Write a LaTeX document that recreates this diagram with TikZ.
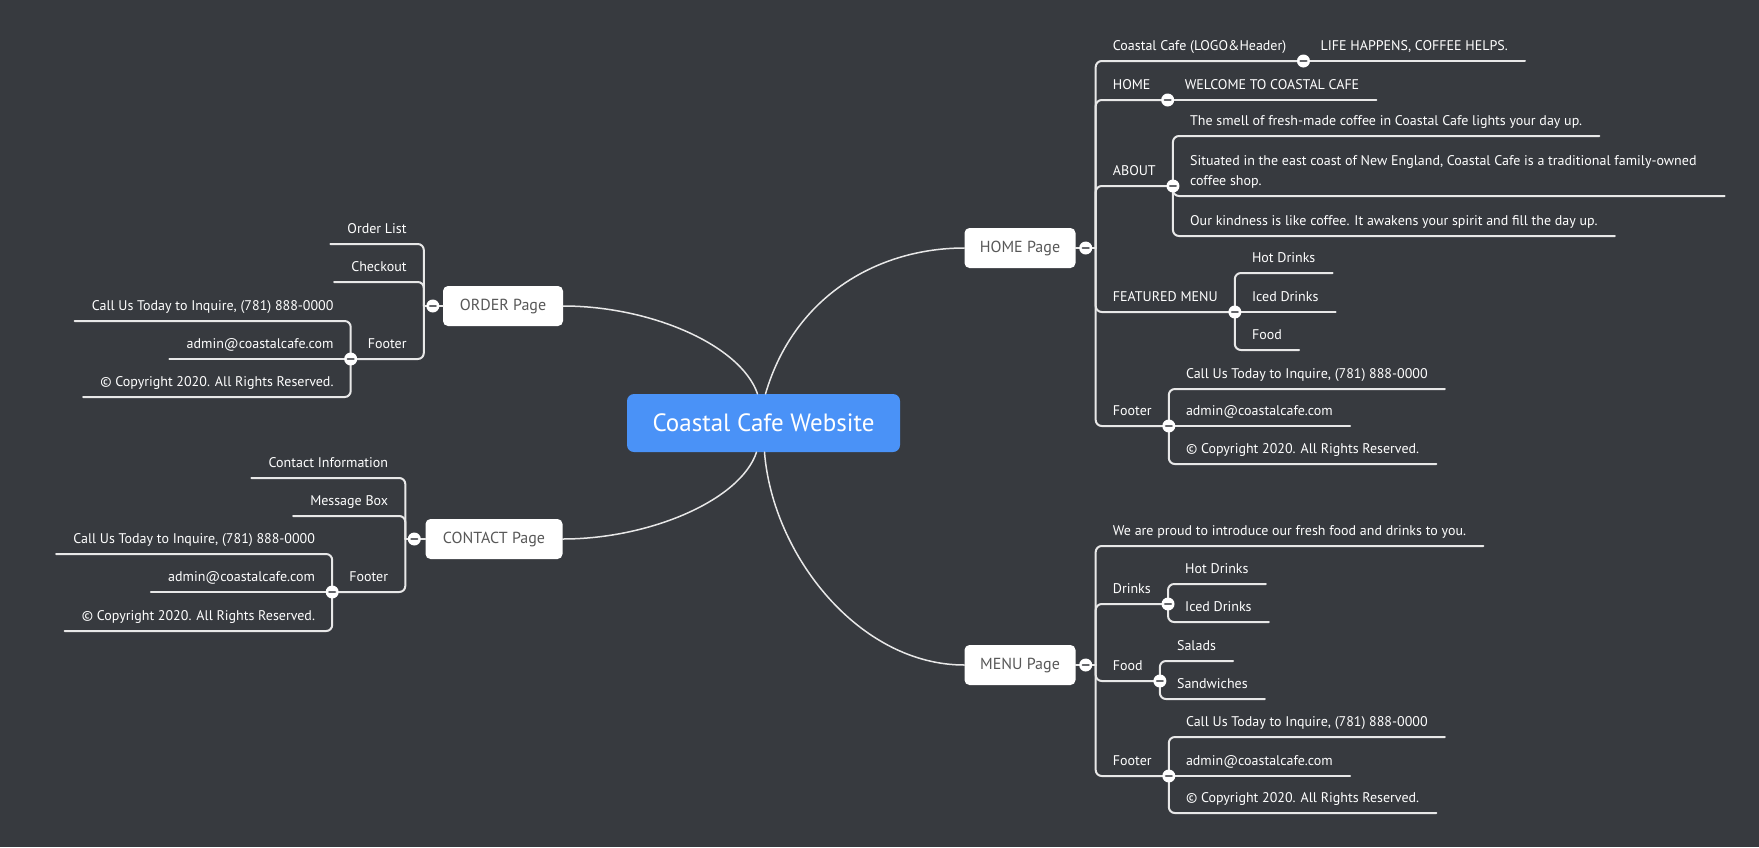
\documentclass[tikz,border=0pt]{standalone}
\usepackage{fontspec}
\setmainfont{PT Sans}
\usetikzlibrary{positioning}

\definecolor{bgclr}{RGB}{55,58,63}
\definecolor{rootclr}{RGB}{74,146,247}
\definecolor{lineclr}{RGB}{232,232,232}
\definecolor{pagetxt}{RGB}{88,88,88}
\definecolor{minusclr}{RGB}{100,102,106}

\begin{document}
\begin{tikzpicture}[
  x=1pt,
  y=-1pt,
  line join=round,
  line cap=round,
  root/.style={fill=rootclr,text=white,rounded corners=7pt,
    minimum width=273pt,minimum height=58pt,font=\fontsize{25}{30}\selectfont},
  page/.style={fill=white,text=pagetxt,rounded corners=5pt,
    minimum height=40pt,font=\fontsize{16}{20}\selectfont},
  leaf/.style={text=white,inner xsep=17pt,inner ysep=7pt,
    text height=11pt,text depth=3pt,font=\fontsize{14}{20}\selectfont},
  trunk/.style={draw=lineclr,line width=1.5pt},
  branch/.style={draw=lineclr,line width=2pt,rounded corners=6pt},
  fold/.style={circle,fill=white,minimum size=13pt,inner sep=0pt,
    path picture={\draw[minusclr,line width=2.2pt]
      ([xshift=-3pt]path picture bounding box.center) --
      ([xshift=3pt]path picture bounding box.center);}}
]
  \useasboundingbox (0,0) rectangle (1759,847);
  \fill[bgclr] (0,0) rectangle (1759,847);

  % Central topic and the four pages.
  \node[root] (site) at (763.5,423) {Coastal Cafe Website};
  \node[page,minimum width=111pt] (home) at (1020,248) {HOME Page};
  \node[page,minimum width=111pt] (menu) at (1020,665) {MENU Page};
  \node[page,minimum width=120pt] (order) at (503,306) {ORDER Page};
  \node[page,minimum width=137pt] (contact) at (494,539) {CONTACT Page};

  % Spine points beside each page.
  \coordinate (homeJ) at ([xshift=20pt]home.east);
  \coordinate (menuJ) at ([xshift=20pt]menu.east);
  \coordinate (orderJ) at ([xshift=-19pt]order.west);
  \coordinate (contactJ) at ([xshift=-20pt]contact.west);

  % HOME Page branch.
  \node[leaf,anchor=south west] (logo) at (homeJ |- 0,61) {Coastal Cafe (LOGO\&Header)};
  \coordinate (logoJ) at (logo.south east);
  \node[leaf,anchor=south west] (slogan) at (logoJ) {LIFE HAPPENS, COFFEE HELPS.};
  \node[leaf,anchor=south west] (homeSec) at (homeJ |- 0,100) {HOME};
  \coordinate (homeSecJ) at (homeSec.south east);
  \node[leaf,anchor=south west] (welcome) at (homeSecJ) {WELCOME TO COASTAL CAFE};
  \node[leaf,anchor=south west] (about) at (homeJ |- 0,186) {ABOUT};
  \coordinate (aboutJ) at (about.south east);
  \node[leaf,anchor=south west] (smell) at (aboutJ |- 0,136)
    {The smell of fresh-made coffee in Coastal Cafe lights your day up.};
  \node[leaf,anchor=south west,align=left,text height=31pt,inner xsep=0pt] (situated) at (aboutJ |- 0,196)
    {\hspace*{17pt}Situated in the east coast of New England, Coastal Cafe is a traditional family-owned\hspace*{28pt}\\\hspace*{17pt}coffee shop.};
  \node[leaf,anchor=south west] (kindness) at (aboutJ |- 0,236)
    {Our kindness is like coffee. It awakens your spirit and fill the day up.};
  \node[leaf,anchor=south west] (featured) at (homeJ |- 0,312) {FEATURED MENU};
  \coordinate (featuredJ) at (featured.south east);
  \node[leaf,anchor=south west] (hotHome) at (featuredJ |- 0,273) {Hot Drinks};
  \node[leaf,anchor=south west] (icedHome) at (featuredJ |- 0,312) {Iced Drinks};
  \node[leaf,anchor=south west] (foodHome) at (featuredJ |- 0,350) {Food};
  \node[leaf,anchor=south west] (footHome) at (homeJ |- 0,426) {Footer};
  \coordinate (footHomeJ) at (footHome.south east);
  \node[leaf,anchor=south west] (callHome) at (footHomeJ |- 0,389) {Call Us Today to Inquire, (781) 888-0000};
  \node[leaf,anchor=south west] (mailHome) at (footHomeJ |- 0,426) {admin@coastalcafe.com};
  \node[leaf,anchor=south west] (copyHome) at (footHomeJ |- 0,464) {© Copyright 2020. All Rights Reserved.};

  % MENU Page branch.
  \node[leaf,anchor=south west] (proud) at (menuJ |- 0,546)
    {We are proud to introduce our fresh food and drinks to you.};
  \node[leaf,anchor=south west] (drinks) at (menuJ |- 0,604) {Drinks};
  \coordinate (drinksJ) at (drinks.south east);
  \node[leaf,anchor=south west] (hotMenu) at (drinksJ |- 0,584) {Hot Drinks};
  \node[leaf,anchor=south west] (icedMenu) at (drinksJ |- 0,622) {Iced Drinks};
  \node[leaf,anchor=south west] (food) at (menuJ |- 0,681) {Food};
  \coordinate (foodJ) at (food.south east);
  \node[leaf,anchor=south west] (salads) at (foodJ |- 0,661) {Salads};
  \node[leaf,anchor=south west] (sandwiches) at (foodJ |- 0,699) {Sandwiches};
  \node[leaf,anchor=south west] (footMenu) at (menuJ |- 0,776) {Footer};
  \coordinate (footMenuJ) at (footMenu.south east);
  \node[leaf,anchor=south west] (callMenu) at (footMenuJ |- 0,737) {Call Us Today to Inquire, (781) 888-0000};
  \node[leaf,anchor=south west] (mailMenu) at (footMenuJ |- 0,776) {admin@coastalcafe.com};
  \node[leaf,anchor=south west] (copyMenu) at (footMenuJ |- 0,813) {© Copyright 2020. All Rights Reserved.};

  % ORDER Page branch.
  \node[leaf,anchor=south east] (orderList) at (orderJ |- 0,244) {Order List};
  \node[leaf,anchor=south east] (checkout) at (orderJ |- 0,282) {Checkout};
  \node[leaf,anchor=south east] (footOrder) at (orderJ |- 0,359) {Footer};
  \coordinate (footOrderJ) at (footOrder.south west);
  \node[leaf,anchor=south east] (callOrder) at (footOrderJ |- 0,321) {Call Us Today to Inquire, (781) 888-0000};
  \node[leaf,anchor=south east] (mailOrder) at (footOrderJ |- 0,359) {admin@coastalcafe.com};
  \node[leaf,anchor=south east] (copyOrder) at (footOrderJ |- 0,397) {© Copyright 2020. All Rights Reserved.};

  % CONTACT Page branch.
  \node[leaf,anchor=south east] (contactInfo) at (contactJ |- 0,478) {Contact Information};
  \node[leaf,anchor=south east] (message) at (contactJ |- 0,516) {Message Box};
  \node[leaf,anchor=south east] (footContact) at (contactJ |- 0,592) {Footer};
  \coordinate (footContactJ) at (footContact.south west);
  \node[leaf,anchor=south east] (callContact) at (footContactJ |- 0,554) {Call Us Today to Inquire, (781) 888-0000};
  \node[leaf,anchor=south east] (mailContact) at (footContactJ |- 0,592) {admin@coastalcafe.com};
  \node[leaf,anchor=south east] (copyContact) at (footContactJ |- 0,631) {© Copyright 2020. All Rights Reserved.};

  % Curves from the central topic.
  \draw[trunk] ([xshift=2pt]site.north) .. controls +(29,-99) and +(-85,0) .. (home.west);
  \draw[trunk] ([xshift=1pt]site.south) .. controls +(8,103) and +(-105,0) .. (menu.west);
  \draw[trunk] ([xshift=-6pt]site.north) .. controls +(-17,-49) and +(87,0) .. (order.east);
  \draw[trunk] ([xshift=-7pt]site.south) .. controls +(-16,48) and +(87,0) .. (contact.east);

  % Spines and underlines, right side.
  \draw[branch] (home.east) -- (homeJ);
  \foreach \c in {logo,homeSec,about,featured,footHome}
    \draw[branch] (homeJ) |- (\c.south east);
  \draw[branch] (logoJ) -- (slogan.south east);
  \draw[branch] (homeSecJ) -- (welcome.south east);
  \foreach \c in {smell,situated,kindness}
    \draw[branch] (aboutJ) |- (\c.south east);
  \foreach \c in {hotHome,foodHome}
    \draw[branch] (featuredJ) |- (\c.south east);
  \draw[branch] (featuredJ) -- (icedHome.south east);
  \foreach \c in {callHome,copyHome}
    \draw[branch] (footHomeJ) |- (\c.south east);
  \draw[branch] (footHomeJ) -- (mailHome.south east);

  \draw[branch] (menu.east) -- (menuJ);
  \foreach \c in {proud,drinks,food,footMenu}
    \draw[branch] (menuJ) |- (\c.south east);
  \foreach \c in {hotMenu,icedMenu}
    \draw[branch] (drinksJ) |- (\c.south east);
  \foreach \c in {salads,sandwiches}
    \draw[branch] (foodJ) |- (\c.south east);
  \foreach \c in {callMenu,copyMenu}
    \draw[branch] (footMenuJ) |- (\c.south east);
  \draw[branch] (footMenuJ) -- (mailMenu.south east);

  % Spines and underlines, left side.
  \draw[branch] (order.west) -- (orderJ);
  \foreach \c in {orderList,checkout,footOrder}
    \draw[branch] (orderJ) |- (\c.south west);
  \foreach \c in {callOrder,copyOrder}
    \draw[branch] (footOrderJ) |- (\c.south west);
  \draw[branch] (footOrderJ) -- (mailOrder.south west);

  \draw[branch] (contact.west) -- (contactJ);
  \foreach \c in {contactInfo,message,footContact}
    \draw[branch] (contactJ) |- (\c.south west);
  \foreach \c in {callContact,copyContact}
    \draw[branch] (footContactJ) |- (\c.south west);
  \draw[branch] (footContactJ) -- (mailContact.south west);

  % Collapse markers.
  \node[fold] (homeFold) at ([xshift=10pt]home.east) {};
  \node[fold] (menuFold) at ([xshift=10pt]menu.east) {};
  \node[fold] (orderFold) at ([xshift=-10pt]order.west) {};
  \node[fold] (contactFold) at ([xshift=-11pt]contact.west) {};
  \foreach \j in {logoJ,homeSecJ,aboutJ,featuredJ,footHomeJ,drinksJ,foodJ,footMenuJ,footOrderJ,footContactJ}
    \node[fold] (\j-fold) at (\j) {};
\end{tikzpicture}
\end{document}
